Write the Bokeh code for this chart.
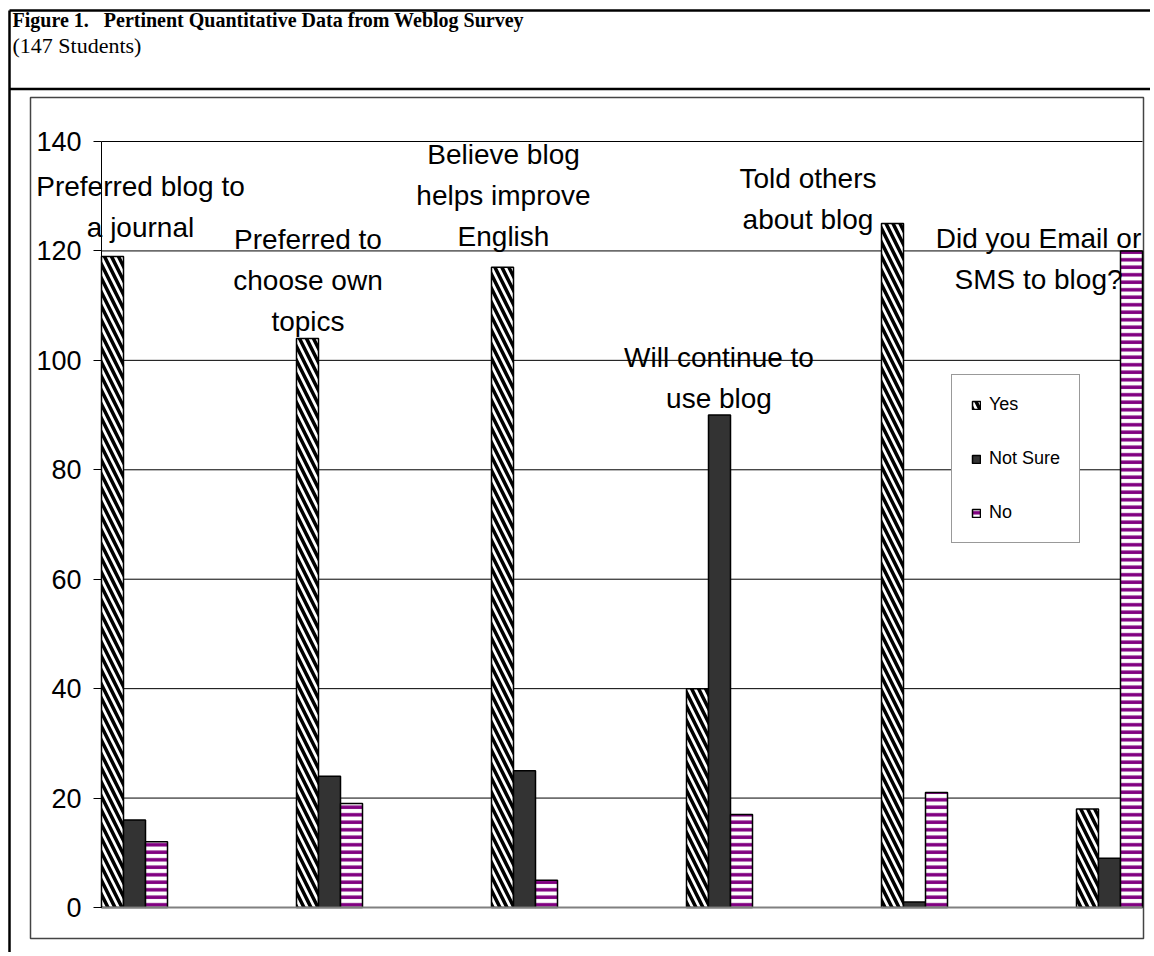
from bokeh.plotting import figure
from bokeh.models import (ColumnDataSource, Range1d, FixedTicker, Legend, LegendItem)
from bokeh.core.properties import value
from bokeh.embed import file_html
from bokeh.resources import INLINE

# ---------------- data ----------------
categories = ["Preferred blog to\na journal",
              "Preferred to\nchoose own\ntopics",
              "Believe blog\nhelps improve\nEnglish",
              "Will continue to\nuse blog",
              "Told others\nabout blog",
              "Did you Email or\nSMS to blog?"]
yes = [119, 104, 117, 40, 125, 18]
not_sure = [16, 24, 25, 90, 1, 9]
no = [12, 19, 5, 17, 21, 120]
series_names = ["Yes", "Not Sure", "No"]
y_ticks = [0, 20, 40, 60, 80, 100, 120, 140]
title_text = "Figure 1.\u00a0\u00a0\u00a0Pertinent Quantitative Data from Weblog Survey"
subtitle_text = "(147 Students)"

# ---------------- layout constants (canvas pixels) ----------------
W, H = 1150, 952
F_LEFT, F_RIGHT, F_TOP, F_BOTTOM = 101, 1142, 97, 907   # plot area of the chart
PITCH = 195.0          # px between group starts
BAR = 22.0             # px bar width
PX_PER_UNIT = 766.0 / 140.0
x0 = -1.5 * BAR / PITCH   # data x at the left edge of the plot area
TEXT_DY = 9.0             # baseline correction for text glyphs


def px2x(px):
    return x0 + (px - F_LEFT) / PITCH


def py2y(py):
    return (F_BOTTOM - py) / PX_PER_UNIT


p = figure(width=W, height=H, output_backend="svg", toolbar_location=None,
           x_range=Range1d(px2x(0), px2x(W)), y_range=Range1d(py2y(H), py2y(0)),
           min_border=0, background_fill_color="white", border_fill_color="white")
p.outline_line_color = None
p.xaxis.visible = False
p.xgrid.visible = False
p.ygrid.visible = False

yax = p.yaxis[0]
yax.fixed_location = px2x(F_LEFT)
yax.ticker = FixedTicker(ticks=y_ticks)
yax.bounds = (0, 140)
yax.axis_line_color = "black"
yax.axis_line_width = 1
yax.major_tick_out = 8
yax.major_tick_in = 0
yax.minor_tick_line_color = None
yax.major_tick_line_color = "black"
yax.major_label_text_font = "Liberation Sans"
yax.major_label_text_font_size = "27px"
yax.major_label_text_color = "black"
yax.major_label_standoff = 12

# ---------------- frames / title ----------------
p.quad(left=[px2x(30)], right=[px2x(1143)], top=[py2y(97)], bottom=[py2y(938)],
       fill_color=None, line_color="#444444", line_width=1.5)
p.segment(x0=[px2x(9), px2x(9), px2x(9)], x1=[px2x(W + 20), px2x(W + 20), px2x(9)],
          y0=[py2y(10), py2y(88.5), py2y(10)], y1=[py2y(10), py2y(88.5), py2y(H + 20)],
          line_color="black", line_width=2.5)

p.text(x=[px2x(12)], y=[py2y(28 - TEXT_DY)], text=[title_text], text_font=value("Liberation Serif"),
       text_font_style="bold", text_font_size="20px", text_baseline="alphabetic",
       text_color="black")
p.text(x=[px2x(12)], y=[py2y(54 - TEXT_DY)], text=[subtitle_text], text_font=value("Liberation Serif"),
       text_font_size="22px", text_baseline="alphabetic", text_color="black")

# ---------------- grid lines ----------------
grid_y = y_ticks[1:]
p.segment(x0=[px2x(F_LEFT)] * len(grid_y), x1=[px2x(F_RIGHT)] * len(grid_y),
          y0=grid_y, y1=grid_y, line_color="black", line_width=1)

# ---------------- bars ----------------
w = BAR / PITCH
idx = list(range(len(categories)))
src_yes = ColumnDataSource(dict(x=[i - w for i in idx], top=yes))
src_ns = ColumnDataSource(dict(x=[i for i in idx], top=not_sure))
src_no = ColumnDataSource(dict(x=[i + w for i in idx], top=no))

r_yes = p.vbar(x="x", top="top", width=w, bottom=0, source=src_yes,
               fill_color="white", line_color="black", line_width=1.5,
               hatch_pattern="\\", hatch_color="black", hatch_weight=3.5, hatch_scale=14)
r_ns = p.vbar(x="x", top="top", width=w, bottom=0, source=src_ns,
              fill_color="#333333", line_color="black", line_width=1.5)
r_no = p.vbar(x="x", top="top", width=w, bottom=0, source=src_no,
              fill_color="white", line_color="black", line_width=1.5,
              hatch_pattern="-", hatch_color="#800080", hatch_weight=3.5, hatch_scale=7.5)

# x baseline
p.segment(x0=[px2x(F_LEFT)], x1=[px2x(F_RIGHT)], y0=[0], y1=[0],
          line_color="#808080", line_width=2)

# ---------------- category labels ----------------
label_anchor_px = [(140, 236), (307.5, 330), (503, 245), (718.5, 407), (807.5, 228), (1038, 288)]
LINE_PX = 41.0
lx, ly, lt = [], [], []
for cat, (cx, cy) in zip(categories, label_anchor_px):
    lines = cat.split("\n")
    n = len(lines)
    for k, line in enumerate(lines):
        lx.append(px2x(cx))
        ly.append(py2y(cy - TEXT_DY - (n - 1 - k) * LINE_PX))
        lt.append(line)
p.text(x=lx, y=ly, text=lt, text_align="center", text_baseline="alphabetic",
       text_font=value("Liberation Sans"), text_font_size="28px", text_color="black")

# ---------------- legend ----------------
legend = Legend(items=[LegendItem(label=series_names[0], renderers=[r_yes]),
                       LegendItem(label=series_names[1], renderers=[r_ns]),
                       LegendItem(label=series_names[2], renderers=[r_no])],
                location=(951, H - 543))
legend.label_text_font = "Liberation Sans"
legend.label_text_font_size = "18px"
legend.label_text_color = "black"
legend.glyph_width = 10
legend.glyph_height = 10
legend.label_height = 20
legend.spacing = 33
legend.padding = 19
legend.margin = 0
legend.label_standoff = 8
legend.border_line_color = "#333333"
legend.border_line_width = 1
legend.background_fill_color = "white"
legend.background_fill_alpha = 1
p.add_layout(legend, "center")

open("out.html", "w").write(file_html(p, INLINE))
